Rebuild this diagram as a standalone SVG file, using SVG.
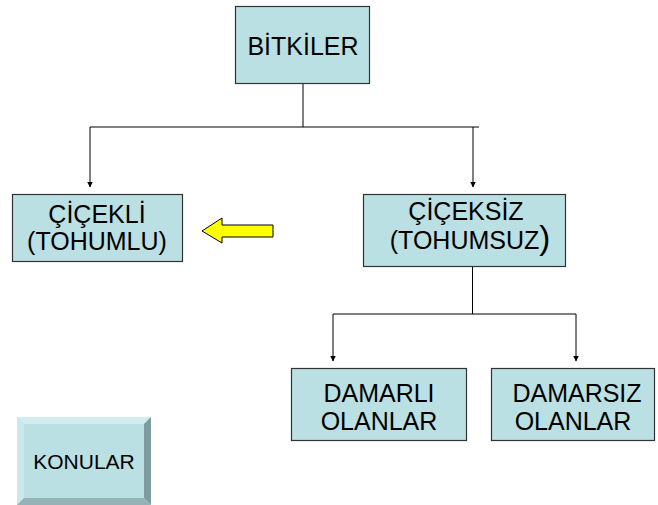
<svg xmlns="http://www.w3.org/2000/svg" width="658" height="505" viewBox="0 0 658 505">
  <defs>
    <marker id="tip" markerWidth="6" markerHeight="7" refX="5.5" refY="3.5" orient="auto" markerUnits="userSpaceOnUse">
      <path d="M0,0.5 L6,3.5 L0,6.5 Z" fill="#000"/>
    </marker>
  </defs>
  <style>
    .box { fill: #BBE0E3; stroke: #333333; stroke-width: 1.2; }
    .lbl { font-family: "Liberation Sans", Arial, sans-serif; font-size: 25px; fill: #000; text-anchor: middle; }
    .wire { fill: none; stroke: #000; stroke-width: 1; }
  </style>
  <rect width="658" height="505" fill="#fff"/>

  <!-- connectors -->
  <g id="connectors">
    <path class="wire" d="M303,83 V127"/>
    <path class="wire" d="M90,127 H479"/>
    <path class="wire" d="M90,127 V187" marker-end="url(#tip)"/>
    <path class="wire" d="M473,127 V187" marker-end="url(#tip)"/>
    <path class="wire" d="M472.5,266 V314"/>
    <path class="wire" d="M333,314 H576"/>
    <path class="wire" d="M333,314 V361" marker-end="url(#tip)"/>
    <path class="wire" d="M576,314 V361" marker-end="url(#tip)"/>
  </g>

  <g id="bitkiler">
    <rect class="box" x="235.5" y="6.5" width="134" height="77"/>
    <text class="lbl" x="303" y="55">BİTKİLER</text>
  </g>

  <g id="cicekli">
    <rect class="box" x="12.5" y="194.5" width="170" height="67"/>
    <text class="lbl" x="97" y="223">ÇİÇEKLİ</text>
    <text class="lbl" x="97" y="250">(TOHUMLU)</text>
  </g>

  <g id="sari-ok">
    <path d="M202,231 L222,218 L222,225 L273,225 L273,237 L222,237 L222,243 Z" fill="#FFFF00" stroke="#000" stroke-width="1"/>
  </g>

  <g id="ciceksiz">
    <rect class="box" x="363.5" y="194.5" width="202" height="72"/>
    <text class="lbl" x="466" y="220">ÇİÇEKSİZ</text>
    <text class="lbl" x="470" y="249">(TOHUMSUZ<tspan style="font-size:33px">)</tspan></text>
  </g>

  <g id="damarli">
    <rect class="box" x="291.5" y="368.5" width="175" height="72"/>
    <text class="lbl" x="379" y="402">DAMARLI</text>
    <text class="lbl" x="379" y="430">OLANLAR</text>
  </g>

  <g id="damarsiz">
    <rect class="box" x="491.5" y="368.5" width="163" height="72"/>
    <text class="lbl" x="577" y="402">DAMARSIZ</text>
    <text class="lbl" x="573" y="430">OLANLAR</text>
  </g>

  <g id="konular">
    <rect x="17" y="417" width="134" height="88" fill="#BBE0E3"/>
    <polygon points="17,417 151,417 144,424 24,424" fill="#D3ECEE"/>
    <polygon points="17,417 24,424 24,498 17,505" fill="#CBE7EA"/>
    <polygon points="151,417 151,505 144,498 144,424" fill="#7C9C9F"/>
    <polygon points="17,505 151,505 144,498 24,498" fill="#93B3B6"/>
    <text class="lbl" x="84" y="469" style="font-size:21px">KONULAR</text>
  </g>
</svg>
